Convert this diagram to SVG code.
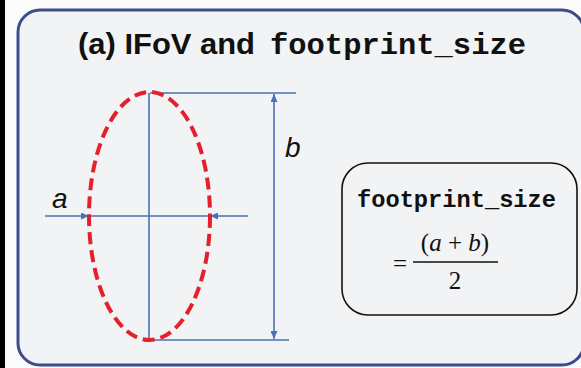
<svg xmlns="http://www.w3.org/2000/svg" width="581" height="368" viewBox="0 0 581 368">
  <style>
    .dim { stroke: #4a70b8; stroke-width: 1.6; fill: none; }
    .title-sans { font-family: "Liberation Sans", Arial, sans-serif; font-weight: bold; font-size: 30px; fill: #111; }
    .mono { font-family: "Liberation Mono", "Courier New", monospace; font-weight: bold; fill: #111; }
    .lbl { font-family: "Liberation Sans", Arial, sans-serif; font-style: italic; font-size: 28px; fill: #111; }
    .math { font-family: "Liberation Serif", "Times New Roman", serif; font-size: 25px; fill: #111; }
  </style>
  <defs>
    <marker id="arr" viewBox="0 0 8 7" refX="8" refY="3.5" markerWidth="8" markerHeight="7" markerUnits="userSpaceOnUse" orient="auto-start-reverse">
      <path d="M0,0 L8,3.5 L0,7 z" fill="#4a70b8"/>
    </marker>
  </defs>

  <rect x="0" y="0" width="581" height="368" fill="#fbfbfb"/>
  <rect x="0" y="0" width="5" height="368" fill="#000"/>

  <g id="frame">
    <rect x="18" y="10" width="566" height="355" rx="22" ry="22" fill="#f2f3f4" stroke="#3d4c8c" stroke-width="3"/>
  </g>

  <g id="title">
    <text x="78" y="54" class="title-sans" textLength="177" lengthAdjust="spacingAndGlyphs">(a) IFoV and</text>
    <text x="270" y="54" class="mono" font-size="30" textLength="256" lengthAdjust="spacingAndGlyphs">footprint_size</text>
  </g>

  <g id="connectors">
    <line class="dim" x1="149" y1="93" x2="149" y2="340"/>
    <line class="dim" x1="89" y1="216" x2="210" y2="216"/>
    <line class="dim" x1="45" y1="216" x2="89" y2="216" marker-end="url(#arr)"/>
    <line class="dim" x1="248" y1="216" x2="210" y2="216" marker-end="url(#arr)"/>
    <line class="dim" x1="150" y1="93" x2="296" y2="93"/>
    <line class="dim" x1="150" y1="340" x2="289" y2="340"/>
    <line class="dim" x1="274" y1="94" x2="274" y2="339" marker-start="url(#arr)" marker-end="url(#arr)"/>
  </g>

  <g id="footprint-ellipse">
    <ellipse cx="149.5" cy="216" rx="60.5" ry="124" fill="none" stroke="#e3202c" stroke-width="4" stroke-dasharray="12 6"/>
  </g>

  <g id="label-a">
    <text x="52" y="208" class="lbl">a</text>
  </g>
  <g id="label-b">
    <text x="285" y="157" class="lbl">b</text>
  </g>

  <g id="formula">
    <rect x="342" y="163" width="235" height="152" rx="26" ry="26" fill="none" stroke="#111" stroke-width="1.6"/>
    <text x="357" y="207" class="mono" font-size="23" textLength="199" lengthAdjust="spacingAndGlyphs">footprint_size</text>
    <text x="393" y="272" class="math">=</text>
    <text x="455" y="251" class="math" text-anchor="middle">(<tspan font-style="italic">a</tspan> + <tspan font-style="italic">b</tspan>)</text>
    <line x1="413" y1="262" x2="498" y2="262" stroke="#111" stroke-width="1.3"/>
    <text x="455" y="289" class="math" text-anchor="middle">2</text>
  </g>
</svg>
